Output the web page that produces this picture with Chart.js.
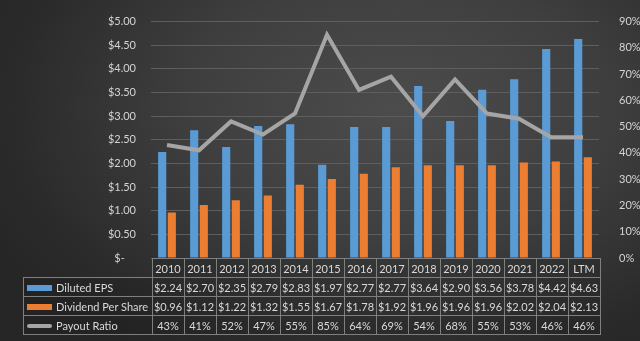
<!DOCTYPE html>
<html>
<head>
<meta charset="utf-8">
<script src="https://cdn.jsdelivr.net/npm/chart.js@4/dist/chart.umd.min.js"></script>
<style>
  html, body { margin: 0; padding: 0; }
  body {
    width: 640px; height: 341px; overflow: hidden; position: relative;
    background: radial-gradient(ellipse 70% 85% at 62% 32%, #4c4c4c 0%, #3f3f3f 45%, #2b2b2b 85%, #262626 100%);
    font-family: Lato, sans-serif;
  }
  #wrap { position: absolute; left: 0; top: 0; width: 640px; height: 341px; }
  #tbl { position: absolute; border-collapse: collapse; color: #d9d9d9; font-size: 11px; }
  #tbl td { border: 1px solid #7f7f7f; text-align: center; padding: 0; height: 18px; white-space: nowrap; background: rgba(0,0,0,0.08); }
  #tbl td.blank { border: none; background: none; }
  #tbl td.lab { text-align: left; padding-left: 3px; }
  .sw { display: inline-block; width: 25px; height: 6px; margin-right: 4px; vertical-align: middle; position: relative; top: -1px; }
</style>
</head>
<body>
<div id="wrap"><canvas id="c"></canvas></div>
<table id="tbl"></table>
<script>
const years = ["2010","2011","2012","2013","2014","2015","2016","2017","2018","2019","2020","2021","2022","LTM"];
const dilutedEps = [2.24, 2.70, 2.35, 2.79, 2.83, 1.97, 2.77, 2.77, 3.64, 2.90, 3.56, 3.78, 4.42, 4.63];
const dividendPerShare = [0.96, 1.12, 1.22, 1.32, 1.55, 1.67, 1.78, 1.92, 1.96, 1.96, 1.96, 2.02, 2.04, 2.13];
const payoutRatio = [43, 41, 52, 47, 55, 85, 64, 69, 54, 68, 55, 53, 46, 46];

const BLUE = "#5b9bd5";
const ORANGE = "#ed7d31";
const GREY = "#a5a5a5";

// html table under the plot, lined up with the x scale
const tablePlugin = {
  id: "dataTable",
  afterRender(chart) {
    if (chart._tableDone) return;
    chart._tableDone = true;
    const area = chart.chartArea;
    const colW = (area.right - area.left) / years.length;
    const tbl = document.getElementById("tbl");
    const labelW = area.left - 23;
    tbl.style.left = "23px";
    tbl.style.top = (area.bottom) + "px";

    let html = "<tr><td class='blank' style='width:" + labelW + "px'></td>";
    years.forEach(y => { html += "<td style='width:" + (colW - 1) + "px'>" + y + "</td>"; });
    html += "</tr>";

    const rows = [
      { name: "Diluted EPS", sw: "<span class='sw' style='background:" + BLUE + "'></span>", vals: dilutedEps.map(v => "$" + v.toFixed(2)) },
      { name: "Dividend Per Share", sw: "<span class='sw' style='background:" + ORANGE + "'></span>", vals: dividendPerShare.map(v => "$" + v.toFixed(2)) },
      { name: "Payout Ratio", sw: "<span class='sw' style='background:" + GREY + ";height:4px;border-radius:2px'></span>", vals: payoutRatio.map(v => v + "%") }
    ];
    rows.forEach(r => {
      html += "<tr><td class='lab'>" + r.sw + r.name + "</td>";
      r.vals.forEach(v => { html += "<td>" + v + "</td>"; });
      html += "</tr>";
    });
    tbl.innerHTML = html;
  }
};

Chart.defaults.font.family = "Lato, sans-serif";
Chart.defaults.font.size = 11;
Chart.defaults.color = "#d4d4d4";

new Chart(document.getElementById("c"), {
  type: "bar",
  data: {
    labels: years,
    datasets: [
      { type: "line", label: "Payout Ratio", data: payoutRatio, yAxisID: "y2",
        borderColor: GREY, borderWidth: 4, pointRadius: 0, tension: 0, order: 0 },
      { label: "Diluted EPS", data: dilutedEps, backgroundColor: BLUE, yAxisID: "y", order: 1,
        categoryPercentage: 0.6, barPercentage: 0.85 },
      { label: "Dividend Per Share", data: dividendPerShare, backgroundColor: ORANGE, yAxisID: "y", order: 1,
        categoryPercentage: 0.6, barPercentage: 0.85 }
    ]
  },
  options: {
    responsive: true,
    maintainAspectRatio: false,
    animation: false,
    layout: { padding: { top: 14, bottom: 83, left: 0, right: 0 } },
    plugins: { legend: { display: false }, tooltip: { enabled: false } },
    scales: {
      x: { display: false },
      y: {
        position: "left", min: 0, max: 5,
        ticks: { stepSize: 0.5, padding: 15,
          callback: v => v === 0 ? "$-    " : "$" + v.toFixed(2) },
        grid: { color: "#5e5e5e", drawTicks: false },
        border: { display: false },
        afterFit: s => { s.width = 151; }
      },
      y2: {
        position: "right", min: 0, max: 90,
        ticks: { stepSize: 10, padding: 12, callback: v => v + "%" },
        grid: { display: false },
        border: { display: false },
        afterFit: s => { s.width = 41; }
      }
    }
  },
  plugins: [tablePlugin]
});
</script>
</body>
</html>
